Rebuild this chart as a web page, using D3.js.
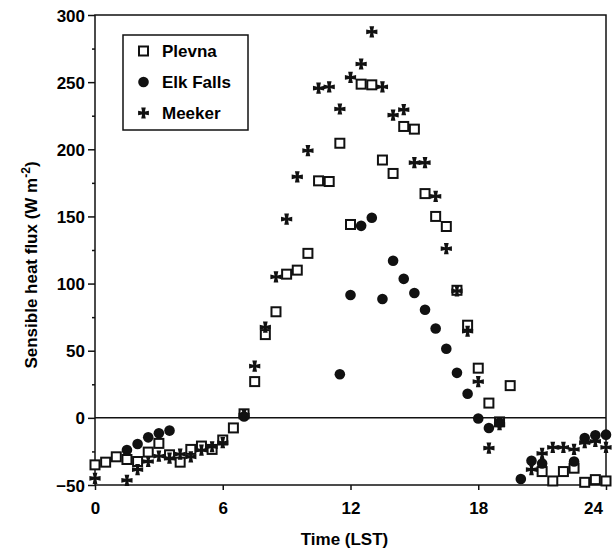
<!DOCTYPE html>
<html>
<head>
<meta charset="utf-8">
<script src="https://cdn.jsdelivr.net/npm/d3@7"></script>
<style>
  html, body { margin: 0; padding: 0; background: #fff; }
  svg { display: block; }
  text { font-family: "Liberation Sans", Arial, Helvetica, sans-serif; font-weight: bold; fill: #000; }
</style>
</head>
<body>
<div id="chart"></div>
<script>
// Sensible heat flux (W m-2) by local standard time, three stations
const plevnaHours = [0, 0.5, 1, 1.5, 2, 2.5, 3, 3.5, 4, 4.5, 5, 5.5, 6, 6.5, 7, 7.5, 8, 8.5, 9, 9.5,
  10, 10.5, 11, 11.5, 12, 12.5, 13, 13.5, 14, 14.5, 15, 15.5, 16, 16.5, 17, 17.5, 18, 18.5, 19, 19.5,
  21, 21.5, 22, 22.5, 23, 23.5, 24];
const plevnaFlux = [-35, -33, -29, -31, -32.5, -25.5, -19, -27.5, -33, -23.5, -21, -23.5, -16.5, -7.5, 3, 27, 62, 79, 107, 110,
  122.5, 176.5, 176, 204.5, 144, 248.5, 248, 192, 182, 217, 215, 167, 150, 142.5, 95, 69, 37, 11, -3, 24,
  -40, -47, -40, -37.5, -48, -46, -47];

const elkHours = [1.5, 2, 2.5, 3, 3.5, 7, 11.5, 12, 12.5, 13, 13.5, 14, 14.5, 15, 15.5, 16, 16.5, 17, 17.5,
  18, 18.5, 19, 20, 20.5, 21, 22.5, 23, 23.5, 24];
const elkFlux = [-24, -19.5, -14.5, -11.5, -9.5, 1, 32.5, 91.5, 143, 149, 88.5, 117, 103.5, 93, 80.5, 66.5, 51.5, 33.5, 18,
  -0.5, -7.5, -3.5, -45.5, -32, -34, -32.5, -15, -13, -12.5];

const meekerHours = [0, 1.5, 2, 2.5, 3, 3.5, 4, 4.5, 5, 5.5, 6, 7, 7.5, 8, 8.5, 9, 9.5, 10, 10.5, 11, 11.5,
  12, 12.5, 13, 13.5, 14, 14.5, 15, 15.5, 16, 16.5, 17, 17.5, 18, 18.5, 19, 20.5, 21, 21.5, 22, 22.5, 23, 23.5, 24];
const meekerFlux = [-45, -46.5, -38.5, -32.5, -28.5, -30, -27, -29, -24, -21.5, -18.5, 2, 38.5, 67.5, 105, 148, 179.5, 199, 245.5, 246.5, 230,
  253.5, 263.5, 287.5, 246.5, 225.5, 229.5, 190, 190, 165, 126, 94.5, 64.5, 27, -22.5, -5, -38.5, -26.5, -22, -22, -23.5, -18.5, -17.5, -22];

const stationNames = ["Plevna", "Elk Falls", "Meeker"];
const xTicks = [0, 6, 12, 18, 24];
const yTicks = [-50, 0, 50, 100, 150, 200, 250, 300];
const yMinorTicks = [-25, 25, 75, 125, 175, 225, 275];

const W = 613, H = 552;
const plot = { left: 95, right: 606, top: 15, bottom: 485 };

const svg = d3.select("#chart").append("svg")
  .attr("width", W).attr("height", H)
  .attr("viewBox", `0 0 ${W} ${H}`);

const x = d3.scaleLinear().domain([0, 24]).range([plot.left, plot.right]);
const y = d3.scaleLinear().domain([-50, 300]).range([plot.bottom, plot.top]);

const ink = "#111";

// axes
const yAxis = svg.append("g").attr("transform", `translate(${plot.left},0)`)
  .call(d3.axisLeft(y).tickValues(yTicks).tickSize(7).tickSizeOuter(0).tickPadding(3));
const yMinor = svg.append("g").attr("transform", `translate(${plot.left},0)`)
  .call(d3.axisLeft(y).tickValues(yMinorTicks).tickSize(3).tickSizeOuter(0).tickFormat(""));
const xAxis = svg.append("g").attr("transform", `translate(0,${plot.bottom})`)
  .call(d3.axisBottom(x).tickValues(xTicks).tickSize(5).tickSizeOuter(0).tickPadding(12));

[yAxis, yMinor, xAxis].forEach(g => {
  g.select(".domain").remove();
  g.selectAll(".tick line").attr("stroke", ink).attr("stroke-width", 1.5);
  g.selectAll(".tick text").attr("font-size", 17).style("font-weight", "bold")
    .attr("font-family", "Liberation Sans, Arial, sans-serif").attr("fill", "#000");
});
yAxis.selectAll(".tick text").attr("dy", "0.36em");
xAxis.selectAll(".tick text").attr("dy", "0.72em")
  .attr("dx", d => d === 24 ? -13 : 0);

// frame and zero line
svg.append("rect")
  .attr("x", plot.left).attr("y", plot.top)
  .attr("width", plot.right - plot.left).attr("height", plot.bottom - plot.top)
  .attr("fill", "none").attr("stroke", ink).attr("stroke-width", 1.5);
svg.append("line")
  .attr("x1", plot.left).attr("x2", plot.right)
  .attr("y1", y(0)).attr("y2", y(0))
  .attr("stroke", ink).attr("stroke-width", 1.5);

// axis titles
svg.append("text")
  .attr("x", x(12) - 6).attr("y", 545)
  .attr("text-anchor", "middle").attr("font-size", 17)
  .text("Time (LST)");

const yTitle = svg.append("text")
  .attr("transform", `translate(37,${265}) rotate(-90)`)
  .attr("text-anchor", "middle").attr("font-size", 17);
yTitle.append("tspan").text("Sensible heat flux (W m");
yTitle.append("tspan").attr("font-size", 12).attr("dy", -7).text("-2");
yTitle.append("tspan").attr("dy", 7).text(")");

// marker shapes
function crossPath(L) {
  const c = L * 0.26, w = L * 0.42;
  return `M${-c},${-c}L${-w},${-L}L${w},${-L}L${c},${-c}` +
    `L${L},${-w}L${L},${w}L${c},${c}` +
    `L${w},${L}L${-w},${L}L${-c},${c}` +
    `L${-L},${w}L${-L},${-w}Z`;
}

const marks = svg.append("g");

// Plevna: open squares
const sq = 9;
marks.append("g").selectAll("rect")
  .data(d3.zip(plevnaHours, plevnaFlux))
  .join("rect")
  .attr("x", d => x(d[0]) - sq / 2).attr("y", d => y(d[1]) - sq / 2)
  .attr("width", sq).attr("height", sq)
  .attr("fill", "#fff").attr("stroke", ink).attr("stroke-width", 2);

// Elk Falls: filled circles
marks.append("g").selectAll("circle")
  .data(d3.zip(elkHours, elkFlux))
  .join("circle")
  .attr("cx", d => x(d[0])).attr("cy", d => y(d[1]))
  .attr("r", 5.3).attr("fill", ink);

// Meeker: flared crosses
marks.append("g").selectAll("path")
  .data(d3.zip(meekerHours, meekerFlux))
  .join("path")
  .attr("transform", d => `translate(${x(d[0])},${y(d[1])})`)
  .attr("d", crossPath(5.6)).attr("fill", ink);

// legend
const legend = svg.append("g");
legend.append("rect")
  .attr("x", 123).attr("y", 35).attr("width", 125).attr("height", 95)
  .attr("fill", "#fff").attr("stroke", ink).attr("stroke-width", 1.5);
const rowY = [51, 82, 113];
const lx = 143.5;
legend.append("rect").attr("x", lx - sq / 2).attr("y", rowY[0] - sq / 2)
  .attr("width", sq).attr("height", sq)
  .attr("fill", "#fff").attr("stroke", ink).attr("stroke-width", 2);
legend.append("circle").attr("cx", lx).attr("cy", rowY[1]).attr("r", 5.3).attr("fill", ink);
legend.append("path").attr("transform", `translate(${lx},${rowY[2]})`)
  .attr("d", crossPath(5.4)).attr("fill", ink);
legend.selectAll("text.lab").data(stationNames).join("text")
  .attr("class", "lab")
  .attr("x", 162).attr("y", (d, i) => rowY[i] + 6)
  .attr("font-size", 17)
  .text(d => d);
</script>
</body>
</html>
